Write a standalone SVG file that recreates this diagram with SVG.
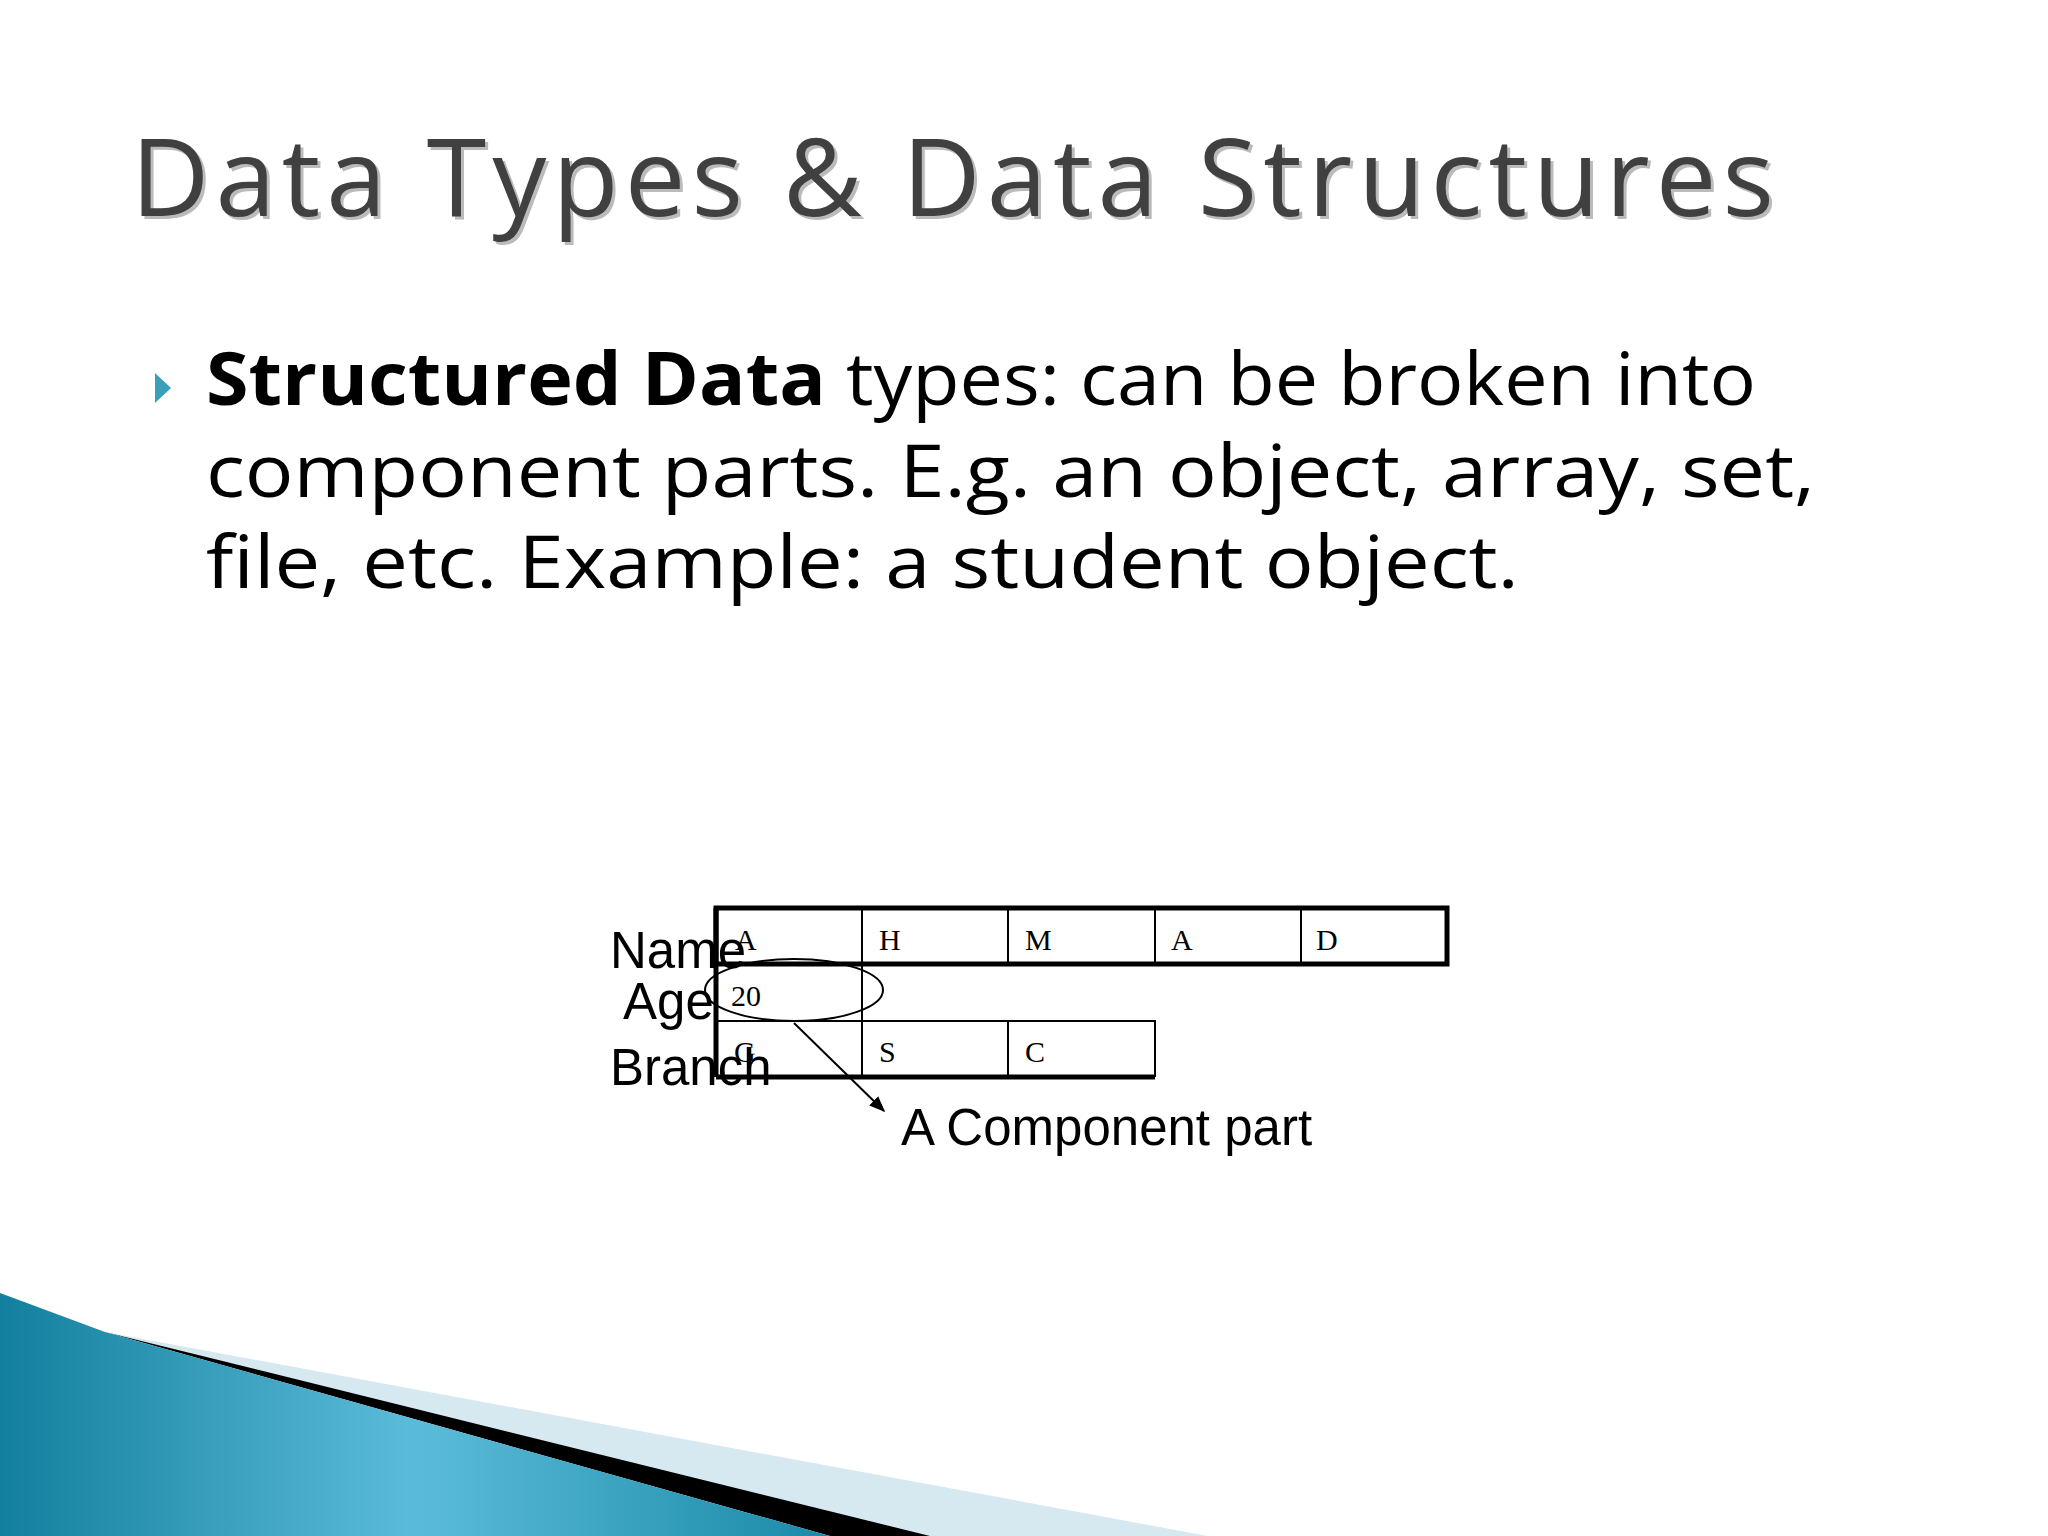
<svg xmlns="http://www.w3.org/2000/svg" width="2048" height="1536" viewBox="0 0 2048 1536">
<defs>
<style>
.lbl{font-family:"Liberation Sans",Arial,sans-serif;font-size:51px;fill:#000}
.cell{font-family:"Liberation Serif","Times New Roman",serif;font-size:30px;fill:#000}
.thin{fill:none;stroke:#000;stroke-width:2}
.thick{fill:none;stroke:#000;stroke-width:5}
</style>
<linearGradient id="blue" x1="0" y1="0" x2="1" y2="0">
<stop offset="0" stop-color="#137f9e"/><stop offset="0.5" stop-color="#5bbcd9"/><stop offset="1" stop-color="#1a8aa8"/>
</linearGradient>
<marker id="arr" viewBox="0 0 10 10" refX="9" refY="5" markerWidth="8" markerHeight="8" orient="auto-start-reverse" markerUnits="strokeWidth"><path d="M0,1 L10,5 L0,9 z" fill="#000"/></marker>
</defs>
<rect width="2048" height="1536" fill="#fff"/>
<g id="swoosh">
<path d="M105,1332 L1208,1536 L925,1536 Z" fill="#d6e8f0"/>
<path d="M105,1332 L930,1536 L830,1536 Z" fill="#000"/>
<path d="M0,1293 L105,1332 L830,1536 L0,1536 Z" fill="url(#blue)"/>
</g>
<g id="title">
<text x="134" y="219" font-family="Open Sans,sans-serif" font-size="108" fill="#bbb" textLength="1643">Data Types &amp; Data Structures</text>
<text x="131" y="216" font-family="Open Sans,sans-serif" font-size="108" fill="#404040" textLength="1643">Data Types &amp; Data Structures</text>
</g>
<g id="bullet">
<path d="M155,373 L171,388 L155,403 Z" fill="#3aa0b8"/>
<g font-family="Open Sans,sans-serif" font-size="74" fill="#000">
<text x="206" y="405" textLength="1550" lengthAdjust="spacingAndGlyphs"><tspan font-weight="bold">Structured Data</tspan> types: can be broken into</text>
<text x="206" y="497" textLength="1609" lengthAdjust="spacingAndGlyphs">component parts. E.g. an object, array, set,</text>
<text x="206" y="588" textLength="1313" lengthAdjust="spacingAndGlyphs">file, etc. Example: a student object.</text>
</g>
</g>
<g id="table">
<rect class="thick" x="716" y="908" width="731" height="56"/>
<line class="thin" x1="862" y1="908" x2="862" y2="1077"/>
<line class="thin" x1="1008" y1="908" x2="1008" y2="964"/>
<line class="thin" x1="1155" y1="908" x2="1155" y2="964"/>
<line class="thin" x1="1301" y1="908" x2="1301" y2="964"/>
<polyline class="thin" points="716,1021 1155,1021 1155,1077"/>
<line class="thin" x1="1008" y1="1021" x2="1008" y2="1077"/>
<line class="thick" x1="716" y1="908" x2="716" y2="1077"/>
<line class="thick" x1="716" y1="1077" x2="1155" y2="1077"/>
<text class="cell" x="735" y="950">A</text>
<text class="cell" x="879" y="950">H</text>
<text class="cell" x="1025" y="950">M</text>
<text class="cell" x="1171" y="950">A</text>
<text class="cell" x="1316" y="950">D</text>
<text class="cell" x="731" y="1006">20</text>
<text class="cell" x="734" y="1062">G</text>
<text class="cell" x="879" y="1062">S</text>
<text class="cell" x="1025" y="1062">C</text>
</g>
<g id="labels">
<text class="lbl" x="610" y="968">Name</text>
<text class="lbl" x="623" y="1019">Age</text>
<text class="lbl" x="610" y="1085">Branch</text>
<text class="lbl" x="901" y="1145">A Component part</text>
</g>
<g id="highlight">
<ellipse cx="794" cy="990" rx="89" ry="31" fill="none" stroke="#000" stroke-width="2"/>
</g>
<g id="connectors">
<line x1="794" y1="1023" x2="884" y2="1111" stroke="#000" stroke-width="2" marker-end="url(#arr)"/>
</g>
</svg>
